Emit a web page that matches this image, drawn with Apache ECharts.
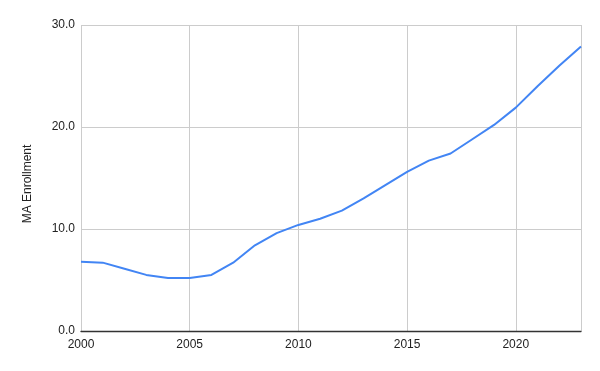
<!DOCTYPE html>
<html><head><meta charset="utf-8">
<script src="https://cdn.jsdelivr.net/npm/echarts@6/dist/echarts.min.js"></script>
<style>html,body{margin:0;padding:0;background:#fff}#c{width:600px;height:371px}</style>
</head><body><div id="c"></div>
<script>
const years = [2000,2001,2002,2003,2004,2005,2006,2007,2008,2009,2010,2011,2012,2013,2014,2015,2016,2017,2018,2019,2020,2021,2022,2023];
const enrollment = [6.8,6.7,6.1,5.5,5.2,5.2,5.5,6.7,8.4,9.6,10.4,11.0,11.8,13.0,14.3,15.6,16.7,17.4,18.8,20.2,21.9,24.0,26.0,27.9];
const yTicks = [0,10,20,30];
const xTicks = [2000,2005,2010,2015,2020];
const font = '"Liberation Sans", Arial, sans-serif';
const chart = echarts.init(document.getElementById('c'), null, {renderer:'canvas'});
chart.setOption({
  animation:false,
  backgroundColor:'#ffffff',
  grid:{left:81,right:19,top:25,bottom:40,containLabel:false},
  xAxis:{type:'value',min:years[0],max:years[years.length-1],interval:5,
    axisLine:{show:true,onZero:false,lineStyle:{color:'#333333',width:1.3}},
    axisTick:{show:false},
    splitLine:{show:true,lineStyle:{color:'#cccccc',width:1}},
    axisLabel:{color:'#222222',fontSize:12,fontFamily:font,margin:8,showMaxLabel:false,
      formatter:v=>xTicks.includes(v)?String(v):''}},
  yAxis:{type:'value',min:yTicks[0],max:yTicks[yTicks.length-1],interval:10,
    name:'MA Enrollment',nameLocation:'middle',nameGap:47,nameRotate:90,
    nameTextStyle:{color:'#222222',fontSize:12,fontFamily:font,padding:[0,12,0,0]},
    axisLine:{show:false},axisTick:{show:false},
    splitLine:{show:true,lineStyle:{color:'#cccccc',width:1}},
    axisLabel:{color:'#222222',fontSize:12,fontFamily:font,margin:6,formatter:v=>v.toFixed(1)}},
  series:[{type:'line',data:years.map((y,i)=>[y,enrollment[i]]),showSymbol:false,
    lineStyle:{color:'#4285f4',width:2},itemStyle:{color:'#4285f4'}}]
});
</script></body></html>
